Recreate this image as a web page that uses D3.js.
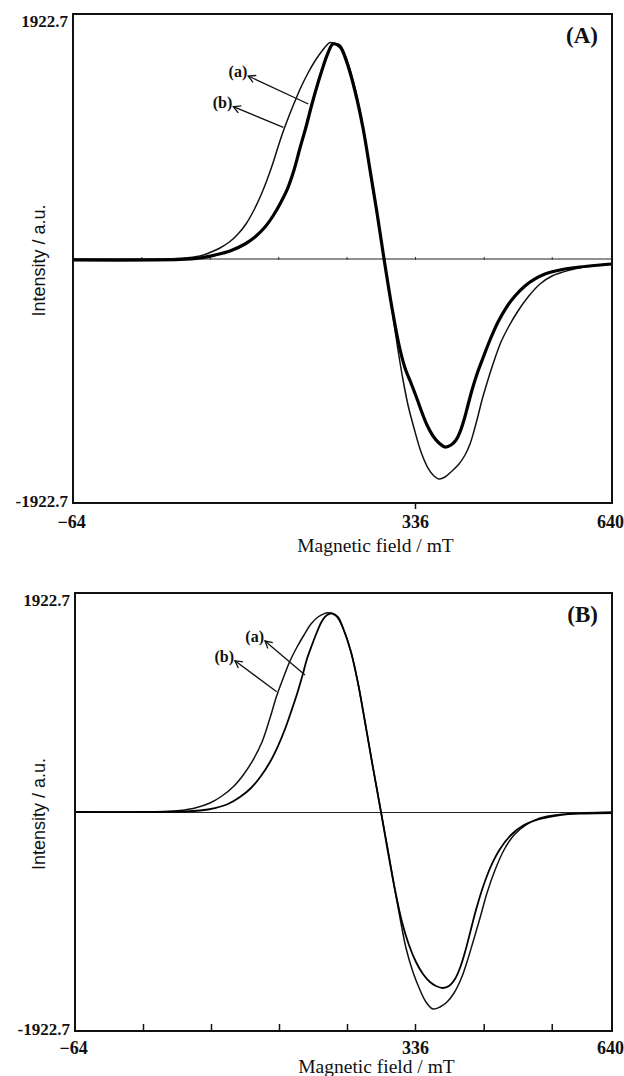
<!DOCTYPE html>
<html>
<head>
<meta charset="utf-8">
<script src="https://cdn.jsdelivr.net/npm/d3@7"></script>
<style>
  html, body { margin: 0; padding: 0; background: #fff; }
  svg { display: block; }
</style>
</head>
<body>
<svg id="chart" width="624" height="1076"></svg>
<script>
// ---- axis values ----
const fieldTicks = [-64, 336, 640];
const fieldMinorTicks = [16, 96, 176, 256, 336, 442, 547];
const intensityTicks = [-1922.7, 1922.7];
const seriesLabels = ["(a)", "(b)"];
const panelLabels = ["(A)", "(B)"];
const xTitle = "Magnetic field / mT";
const yTitle = "Intensity / a.u.";

// ---- spectra: [field (mT), intensity (a.u.)] ----
// panel A, sample (a): narrow line, noisy trace
const specA_a = [[-64,-11.8],[61.1,-7.9],[84.5,3.9],[102.1,27.5],[119.6,59.0],[137.2,114.0],[148.9,169.1],[160.6,247.7],[169.9,334.2],[178.1,428.6],[186.3,538.7],[194.5,696.0],[201.5,869.0],[208.5,1034.1],[215.5,1215.0],[222.5,1380.1],[228.4,1505.9],[234.2,1616.0],[240.1,1687.0],[248.3,1663.4],[256.5,1537.4],[265.8,1317.2],[275.2,1026.2],[283.4,696.0],[291.6,357.8],[299.7,0],[309.1,-389.3],[317.3,-680.2],[324.3,-861.1],[331.3,-979.0],[337.5,-1081.3],[345.3,-1191.4],[354.5,-1309.3],[363.8,-1395.8],[373.0,-1450.9],[382.3,-1482.3],[391.6,-1466.6],[399.3,-1427.3],[405.4,-1364.4],[411.6,-1270.0],[417.8,-1152.0],[424.0,-1034.1],[431.7,-908.3],[440.9,-782.4],[451.7,-640.9],[464.1,-499.4],[476.4,-389.3],[490.3,-294.9],[505.7,-216.3],[521.2,-161.2],[536.6,-121.9],[559.8,-90.4],[590.6,-66.8],[621.5,-51.1],[640,-43.3]];
// panel A, sample (b): broad line
const specA_b = [[-64,-3.9],[37.8,-3.9],[61.1,1.6],[84.5,19.7],[96.2,47.2],[107.9,82.6],[119.6,133.7],[129.0,192.7],[138.3,271.3],[147.7,381.4],[155.9,499.4],[162.9,617.3],[169.9,751.0],[175.8,876.8],[181.6,994.8],[188.6,1120.6],[195.7,1238.5],[202.7,1348.6],[210.9,1458.7],[219.0,1553.1],[227.2,1631.7],[236.6,1698.6],[242.4,1690.7],[248.3,1678.9],[256.5,1561.0],[265.8,1340.8],[274.0,1073.4],[282.2,735.3],[290.4,397.1],[299.7,0],[309.1,-405.0],[316.1,-719.5],[322.0,-955.5],[327.8,-1152.0],[334.8,-1332.9],[345.3,-1521.6],[356.1,-1647.5],[365.3,-1710.4],[373.0,-1734.0],[382.3,-1718.3],[393.1,-1671.1],[403.9,-1616.0],[413.2,-1545.2],[420.9,-1458.8],[427.0,-1356.5],[433.2,-1238.5],[439.4,-1112.7],[447.1,-979.0],[456.4,-829.6],[468.7,-656.6],[481.1,-530.8],[494.9,-412.9],[510.4,-302.8],[528.9,-200.5],[547.4,-137.6],[575.2,-90.4],[606.1,-59.0],[640,-43.3]];
// panel B, sample (a)
const specB_a = [[-64,0],[65.4,4.4],[83.1,13.2],[100.7,35.1],[116.0,70.2],[130.1,131.7],[143.1,210.7],[154.8,316.1],[165.4,439.0],[174.8,579.4],[183.1,728.7],[190.1,877.9],[197.2,1036.0],[203.1,1185.2],[208.9,1343.3],[214.8,1466.2],[220.7,1580.3],[226.6,1676.9],[232.5,1729.5],[238.4,1744.5],[245.4,1712.0],[251.3,1615.4],[260.7,1404.7],[268.9,1132.6],[277.2,790.2],[285.4,439.0],[296.0,0],[304.2,-351.2],[312.5,-684.8],[320.7,-965.7],[328.9,-1167.7],[337.5,-1316.9],[348.3,-1422.3],[359.1,-1492.5],[368.4,-1527.6],[379.2,-1545.2],[388.5,-1527.6],[397.7,-1466.2],[405.4,-1369.6],[413.2,-1229.1],[420.9,-1062.3],[430.1,-860.4],[440.9,-658.5],[453.3,-474.1],[467.2,-324.8],[484.1,-201.9],[504.2,-114.1],[528.9,-61.5],[559.8,-26.3],[598.3,-13.2],[640,-8.8]];
// panel B, sample (b)
const specB_b = [[-64,0],[41.9,4.4],[59.5,13.2],[77.2,35.1],[94.8,79.0],[108.9,140.5],[123.1,228.3],[134.8,333.6],[145.4,456.5],[156.0,614.6],[165.4,825.3],[173.6,1027.2],[181.9,1194.0],[188.9,1325.7],[197.2,1448.6],[205.4,1554.0],[213.6,1650.5],[221.9,1712.0],[233.6,1749.7],[243.1,1720.8],[251.3,1615.4],[260.7,1404.7],[268.9,1132.6],[277.2,790.2],[285.4,439.0],[296.0,0],[304.2,-333.6],[311.3,-640.9],[318.4,-930.6],[325.4,-1194.0],[333.6,-1404.7],[343.7,-1562.7],[353.0,-1668.1],[363.8,-1729.5],[374.6,-1712.0],[385.4,-1668.1],[396.2,-1589.1],[407.0,-1466.2],[416.2,-1316.9],[425.5,-1141.3],[436.3,-930.6],[447.1,-711.1],[459.5,-509.2],[473.3,-333.6],[488.8,-201.9],[507.3,-114.1],[528.9,-52.7],[559.8,-21.9],[598.3,-7.0],[640,0]];

// label arrows: [tail field, tail intensity, tip field, tip intensity]
const arrowsA = [[211.2,1215,141.0,1435],[182.0,1031.7,123.5,1193.7]];
const arrowsB = [[206.6,1202.8,159.5,1501.3],[173.3,1056.2,124.2,1328.3]];

// ---- layout ----
const panels = [
  { label: panelLabels[0], a: specA_a, b: specA_b, arrows: arrowsA,
    left: 73, mid: 415, right: 612, top: 14, bottom: 503,
    widthA: 3.2, widthB: 1.5, innerTicks: false, zeroTicks: true, titleY: 552, tickPad: 6 },
  { label: panelLabels[1], a: specB_a, b: specB_b, arrows: arrowsB,
    left: 75, mid: 415, right: 612, top: 593, bottom: 1031,
    widthA: 1.8, widthB: 1.5, innerTicks: true, zeroTicks: false, titleY: 1073, tickPad: 4 }
];

const svg = d3.select("#chart");
svg.append("rect").attr("width", 624).attr("height", 1076).attr("fill", "#fff");

const ink = "#111";
const serif = "'Liberation Serif', 'Times New Roman', serif";
const sans = "'Liberation Sans', Arial, sans-serif";
const fmtField = d => d < 0 ? "\u2212" + Math.abs(d) : String(d);

panels.forEach((p, i) => {
  const g = svg.append("g");
  const x = d3.scaleLinear().domain(fieldTicks).range([p.left, p.mid, p.right]);
  const y = d3.scaleLinear().domain(intensityTicks).range([p.bottom, p.top]);

  const clipId = "clip" + i;
  g.append("clipPath").attr("id", clipId)
    .append("rect").attr("x", p.left).attr("y", p.top)
    .attr("width", p.right - p.left).attr("height", p.bottom - p.top);

  // zero line
  const zero = g.append("g").attr("transform", `translate(0,${y(0)})`)
    .call(d3.axisBottom(x).tickValues(p.zeroTicks ? fieldMinorTicks : [])
      .tickSizeInner(1.5).tickSizeOuter(0).tickFormat(""));
  zero.select(".domain").attr("stroke", "#222").attr("stroke-width", 1);
  zero.selectAll(".tick line").attr("y1", -1.5).attr("stroke", "#333");

  // spectra
  const line = d3.line().x(d => x(d[0])).y(d => y(d[1])).curve(d3.curveCatmullRom.alpha(0.5));
  const plot = g.append("g").attr("clip-path", `url(#${clipId})`);
  plot.append("path").datum(p.b).attr("d", line)
    .attr("fill", "none").attr("stroke", ink).attr("stroke-width", p.widthB)
    .attr("stroke-linejoin", "round");
  plot.append("path").datum(p.a).attr("d", line)
    .attr("fill", "none").attr("stroke", "#000").attr("stroke-width", p.widthA)
    .attr("stroke-linejoin", "round");

  // frame
  g.append("rect").attr("x", p.left).attr("y", p.top)
    .attr("width", p.right - p.left).attr("height", p.bottom - p.top)
    .attr("fill", "none").attr("stroke", ink).attr("stroke-width", 2);

  // bottom axis labels
  const xa = g.append("g").attr("transform", `translate(0,${p.bottom})`)
    .call(d3.axisBottom(x).tickValues(fieldTicks).tickSize(6).tickPadding(p.tickPad).tickFormat(fmtField));
  xa.select(".domain").remove();
  xa.selectAll(".tick line")
    .attr("stroke", ink).attr("stroke-width", 1.5)
    .attr("display", d => (!p.innerTicks && d === 336) ? null : "none");
  xa.selectAll(".tick text")
    .attr("fill", ink).attr("dx", d => d === 336 ? 0 : -2)
    .style("font-family", serif).style("font-size", "18px").style("font-weight", "bold");

  if (p.innerTicks) {
    const xm = g.append("g").attr("transform", `translate(0,${p.bottom})`)
      .call(d3.axisBottom(x).tickValues(fieldMinorTicks).tickSize(-7).tickFormat(""));
    xm.select(".domain").remove();
    xm.selectAll(".tick line").attr("stroke", ink).attr("stroke-width", 1.5);
  }

  // left axis labels
  const ya = g.append("g").attr("transform", `translate(${p.left},0)`)
    .call(d3.axisLeft(y).tickValues(intensityTicks).tickSize(0).tickPadding(5).tickFormat(d => String(d)));
  ya.select(".domain").remove();
  ya.selectAll(".tick text")
    .attr("fill", ink).style("font-family", serif).style("font-size", "17px").style("font-weight", "bold")
    .attr("transform", d => d > 0 ? "translate(0,7)" : "translate(0,-2)");

  // axis titles
  g.append("text").attr("x", (p.left + p.right) / 2 + 33).attr("y", p.titleY)
    .attr("text-anchor", "middle").attr("fill", ink)
    .style("font-family", serif).style("font-size", "19.5px")
    .text(xTitle);
  g.append("text")
    .attr("transform", `translate(45,${y(0) + 2}) rotate(-90)`)
    .attr("text-anchor", "middle").attr("fill", ink)
    .style("font-family", sans).style("font-size", "18px")
    .text(yTitle);

  // panel tag
  g.append("text").attr("x", p.right - 14).attr("y", p.top + 29)
    .attr("text-anchor", "end").attr("fill", ink)
    .style("font-family", serif).style("font-size", "23px").style("font-weight", "bold")
    .text(p.label);

  // series labels with arrows
  p.arrows.forEach((a, k) => {
    const x0 = x(a[0]), y0 = y(a[1]), x1 = x(a[2]), y1 = y(a[3]);
    g.append("line").attr("x1", x0).attr("y1", y0).attr("x2", x1).attr("y2", y1)
      .attr("stroke", ink).attr("stroke-width", 1.3);
    const ang = Math.atan2(y0 - y1, x0 - x1);
    const len = 8, spread = 0.5;
    const head = d3.path();
    head.moveTo(x1 + len * Math.cos(ang - spread), y1 + len * Math.sin(ang - spread));
    head.lineTo(x1, y1);
    head.lineTo(x1 + len * Math.cos(ang + spread), y1 + len * Math.sin(ang + spread));
    g.append("path").attr("d", head.toString())
      .attr("fill", "none").attr("stroke", ink).attr("stroke-width", 1.3);
    g.append("text").attr("x", x1 - 1).attr("y", y1 + 1)
      .attr("text-anchor", "end").attr("fill", ink)
      .style("font-family", serif).style("font-size", "16px").style("font-weight", "bold")
      .text(seriesLabels[k]);
  });
});
</script>
</body>
</html>
